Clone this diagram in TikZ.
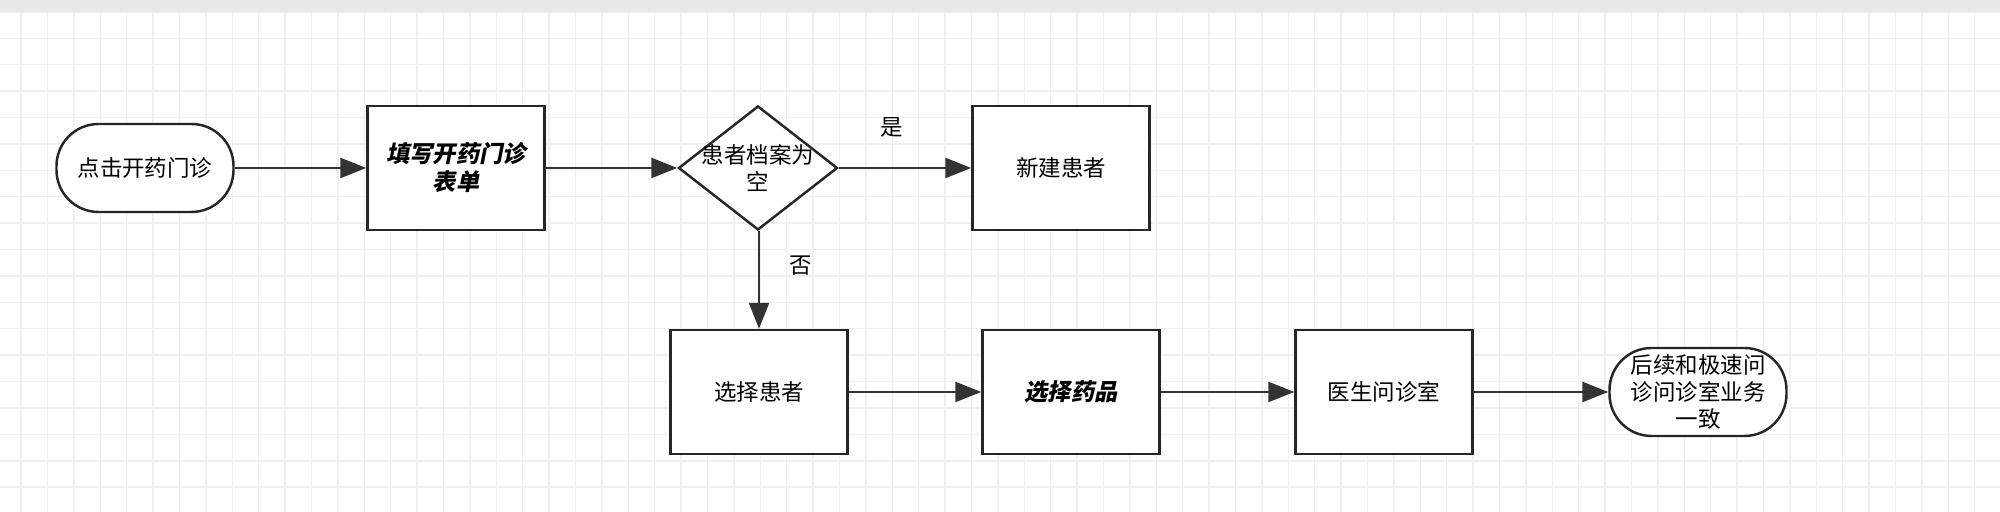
\documentclass[tikz,border=0pt]{standalone}
\usepackage{fontspec}
\setmainfont{Noto Sans CJK SC}
\newfontfamily\cjkbi{Noto Sans CJK SC}[FakeSlant=0.2]
\usetikzlibrary{shapes.geometric,arrows.meta}

\def\boxWidth{1.77}
\def\boxHeight{1.24}
\def\gridStep{0.264}

\tikzset{
    step box/.style = {draw = black!85, line width = 0.7pt, fill = white,
        minimum width = \boxWidth cm, minimum height = \boxHeight cm,
        align = center, inner sep = 1pt},
    term box/.style = {step box, rounded corners = 4.2mm,
        minimum height = 0.88cm},
    check box/.style = {draw = black!85, line width = 0.7pt, fill = white,
        diamond, aspect = 1.28, minimum width = 1.59cm,
        minimum height = 1.24cm, inner sep = -4pt, align = center},
    flow/.style = {draw = black!80, line width = 0.7pt,
        -{Triangle[length = 2.6mm, width = 2mm]}},
    bold step/.style = {font = \cjkbi\bfseries\fontsize{6.6}{8}\selectfont},
}

\begin{document}
\begin{tikzpicture}[font = \fontsize{6.4}{7.6}\selectfont]
            \useasboundingbox (0,0) rectangle (20,5.12);
            % background
            \fill [white] (0,0) rectangle (20,5.12);
            \foreach \i in {0,...,76} {
                \draw [black!6, line width = 0.4pt]
                ({0.21+\i*\gridStep},0) -- ++(0,5.0);
            }
            \foreach \j in {0,...,19} {
                \draw [black!6, line width = 0.4pt]
                (0,{5.0-\j*\gridStep}) -- ++(20,0);
            }
            \fill [black!9] (0,5.0) rectangle (20,5.12);

            % upper row
            \node [term box] (open) at (1.45,3.44) {点击开药门诊};
            \node [step box, bold step] (form) at (4.56,3.44)
                {填写开药门诊\\表单};
            \node [check box] (empty) at (7.58,3.44) {患者档案为\\空};
            \node [step box] (newpat) at (10.61,3.44) {新建患者};

            % lower row
            \node [step box] (pickpat) at (7.59,1.20) {选择患者};
            \node [step box, bold step] (pickmed) at (10.71,1.20) {选择药品};
            \node [step box] (doctor) at (13.84,1.20) {医生问诊室};
            \node [term box] (same) at (16.98,1.20)
                {后续和极速问\\诊问诊室业务\\一致};

            \draw [flow] (open) -- (form);
            \draw [flow] (form) -- (empty);
            \draw [flow] (empty) -- node [above = 5pt, pos = 0.4] {是} (newpat);
            \draw [flow] (empty.south -| pickpat) -- node [right = 5pt, pos = 0.35] {否} (pickpat);
            \draw [flow] (pickpat) -- (pickmed);
            \draw [flow] (pickmed) -- (doctor);
            \draw [flow] (doctor) -- (same);
        \end{tikzpicture}
\end{document}
